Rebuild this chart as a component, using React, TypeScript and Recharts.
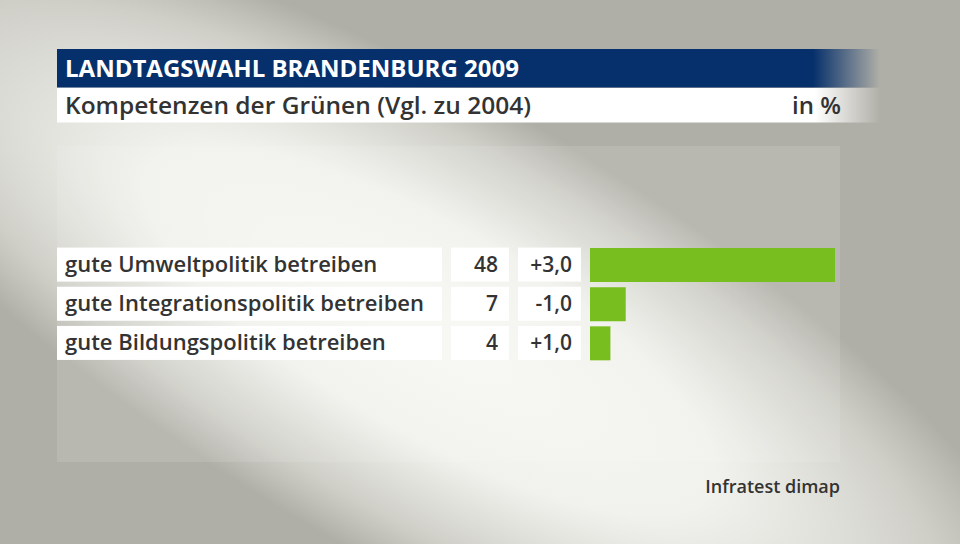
import React from "react";
import { BarChart, Bar, XAxis, YAxis } from "recharts";

const categories = [
  "gute Umweltpolitik betreiben",
  "gute Integrationspolitik betreiben",
  "gute Bildungspolitik betreiben",
];
const values = [48, 7, 4];
const changes = ["+3,0", "-1,0", "+1,0"];

const title = "LANDTAGSWAHL BRANDENBURG 2009";
const subtitle = "Kompetenzen der Grünen (Vgl. zu 2004)";
const unit = "in %";
const source = "Infratest dimap";

const data = categories.map((name, i) => ({ name, value: values[i], change: changes[i] }));

const FONT = "'Open Sans', 'Noto Sans', sans-serif";
const TEXT = "#333333";

const RowTick = (props: any) => {
  const { y, payload } = props;
  const i = categories.indexOf(payload.value);
  const h = 34;
  return (
    <g>
      <rect x={57} y={y - h / 2} width={385} height={h} fill="#ffffff" />
      <text x={65} y={y + 7.5} fontSize={22} fontWeight={600} fill={TEXT} fontFamily={FONT}>
        {payload.value}
      </text>
      <rect x={451} y={y - h / 2} width={58} height={h} fill="#ffffff" />
      <text x={498} y={y + 7.5} fontSize={21} fontWeight={600} fill={TEXT} textAnchor="end" fontFamily={FONT}>
        {values[i]}
      </text>
      <rect x={518} y={y - h / 2} width={63} height={h} fill="#ffffff" />
      <text x={572} y={y + 7.5} fontSize={21} fontWeight={600} fill={TEXT} textAnchor="end" fontFamily={FONT}>
        {changes[i]}
      </text>
    </g>
  );
};

export default function App() {
  return (
    <div style={{ position: "absolute", left: 0, top: 0, width: 960, height: 544, overflow: "hidden", fontFamily: FONT }}>
      <svg width={960} height={544} style={{ position: "absolute", left: 0, top: 0 }}>
        <defs>
          <radialGradient id="bg" gradientUnits="userSpaceOnUse" cx={0} cy={0} r={1}
            gradientTransform="translate(430 330) rotate(30) scale(720 230)">
            <stop offset="0" stopColor="#f7f8f3" />
            <stop offset="0.45" stopColor="#f1f2ed" />
            <stop offset="0.8" stopColor="#cfcfc8" />
            <stop offset="1" stopColor="#b0afa7" />
          </radialGradient>
          <linearGradient id="navy" gradientUnits="userSpaceOnUse" x1={57} y1={0} x2={880} y2={0}>
            <stop offset="0" stopColor="#06306b" />
            <stop offset={(813 - 57) / 823} stopColor="#06306b" />
            <stop offset="1" stopColor="#06306b" stopOpacity={0} />
          </linearGradient>
          <linearGradient id="white" gradientUnits="userSpaceOnUse" x1={57} y1={0} x2={880} y2={0}>
            <stop offset="0" stopColor="#ffffff" />
            <stop offset={(815 - 57) / 823} stopColor="#ffffff" />
            <stop offset="1" stopColor="#ffffff" stopOpacity={0} />
          </linearGradient>
        </defs>
        <rect x={0} y={0} width={960} height={544} fill="#b0afa7" />
        <rect x={0} y={0} width={960} height={544} fill="url(#bg)" />
        <rect x={57} y={146} width={783} height={316} fill="#ffffff" fillOpacity={0.1} />
        <rect x={57} y={49} width={823} height={38.5} fill="url(#navy)" />
        <rect x={57} y={88} width={823} height={34.5} fill="url(#white)" />
        <text x={65} y={77} fontSize={24} fontWeight={700} fill="#ffffff" fontFamily={FONT}
          textLength={454} lengthAdjust="spacingAndGlyphs">{title}</text>
        <text x={65} y={114} fontSize={24} fontWeight={600} fill={TEXT} fontFamily={FONT}
          textLength={466} lengthAdjust="spacingAndGlyphs">{subtitle}</text>
        <text x={841} y={114} fontSize={24} fontWeight={600} fill={TEXT} textAnchor="end" fontFamily={FONT}>{unit}</text>
        <text x={840} y={493} fontSize={18} fontWeight={600} fill={TEXT} textAnchor="end" fontFamily={FONT}>{source}</text>
      </svg>
      <div style={{ position: "absolute", left: 0, top: 0 }}>
        <BarChart width={960} height={544} data={data} layout="vertical"
          margin={{ top: 245, right: 125, bottom: 181.5, left: 57 }}>
          <XAxis type="number" domain={[0, 48]} hide />
          <YAxis type="category" dataKey="name" width={533} axisLine={false} tickLine={false}
            interval={0} tick={<RowTick />} />
          <Bar dataKey="value" fill="#78be1e" barSize={34} isAnimationActive={false} />
        </BarChart>
      </div>
    </div>
  );
}
